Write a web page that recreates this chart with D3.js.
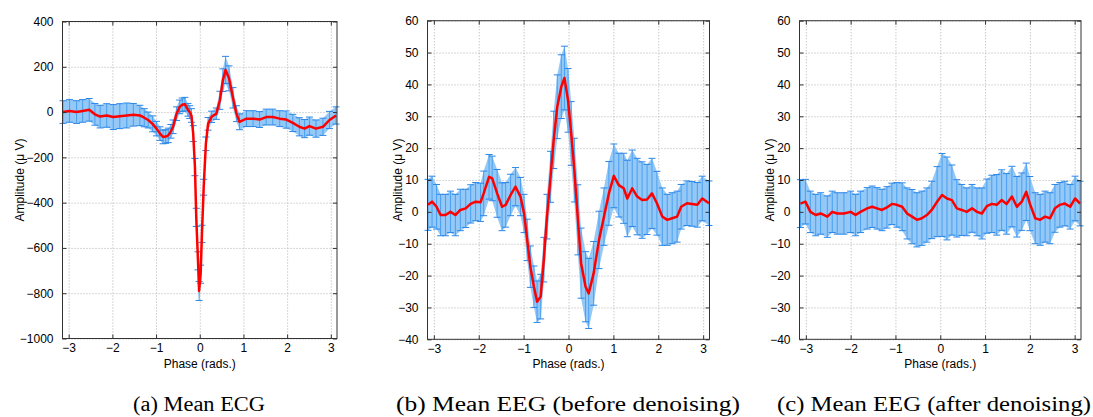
<!DOCTYPE html>
<html><head><meta charset="utf-8">
<script src="https://cdn.jsdelivr.net/npm/d3@7"></script>
<style>
body{margin:0;background:#fff;}
svg text{font-family:"Liberation Sans",Arial,sans-serif;}
</style>
</head><body><svg id="chart" width="1093" height="417"></svg>
<script>
// ---------- data ----------
const phaseTicks = [-3, -2, -1, 0, 1, 2, 3];
const ecgTicks = [-1000, -800, -600, -400, -200, 0, 200, 400];
const eegTicks = [-40, -30, -20, -10, 0, 10, 20, 30, 40, 50, 60];
const captions = ["(a) Mean ECG", "(b) Mean EEG (before denoising)", "(c) Mean EEG (after denoising)"];

const ecgPhase = [-3.13,-2.98,-2.82,-2.68,-2.53,-2.40,-2.28,-2.13,-1.98,-1.83,-1.67,-1.52,-1.37,-1.27,-1.18,-1.08,-0.99,-0.91,-0.84,-0.78,-0.72,-0.66,-0.61,-0.53,-0.46,-0.40,-0.34,-0.27,-0.23,-0.19,-0.15,-0.11,-0.08,-0.04,-0.015,0.02,0.05,0.09,0.14,0.19,0.27,0.38,0.46,0.53,0.59,0.67,0.76,0.84,0.91,1.07,1.22,1.37,1.52,1.67,1.83,1.98,2.13,2.28,2.40,2.51,2.66,2.82,2.97,3.12];
const ecgMean = [0,5,0,5,10,-10,-20,-15,-22,-18,-15,-12,-15,-25,-35,-52,-73,-95,-110,-108,-103,-85,-65,-7,23,32,35,10,0,-15,-95,-243,-465,-657,-790,-716,-538,-332,-140,-52,-21,-7,52,141,186,149,63,-7,-43,-29,-29,-33,-22,-22,-29,-33,-48,-65,-73,-62,-73,-65,-35,-15];
const ecgErr = [50,50,50,50,50,48,50,52,55,55,55,50,45,40,35,35,32,30,30,30,32,30,30,30,30,30,30,28,28,30,35,38,40,40,42,40,38,35,30,28,25,25,40,50,60,55,45,35,35,35,35,35,35,35,35,38,38,40,40,40,38,38,38,38];

const eegBeforePhase = [-3.13,-3.04,-2.94,-2.85,-2.74,-2.63,-2.52,-2.41,-2.29,-2.18,-2.07,-1.96,-1.89,-1.77,-1.70,-1.59,-1.48,-1.40,-1.29,-1.18,-1.07,-0.99,-0.92,-0.85,-0.77,-0.70,-0.62,-0.55,-0.48,-0.40,-0.33,-0.25,-0.16,-0.09,-0.01,0.06,0.13,0.21,0.28,0.38,0.45,0.56,0.68,0.79,0.90,1.01,1.12,1.23,1.31,1.42,1.53,1.64,1.75,1.86,1.97,2.09,2.20,2.31,2.42,2.51,2.64,2.75,2.87,2.98,3.13];
const eegBeforeMean = [2.2,3.2,1.6,-1,-1,0,-1,0.6,1.1,2.5,3.2,3,5.8,11,10.5,5.8,1.6,2.2,5.3,7.9,4.8,-0.5,-8.8,-17.2,-23.5,-28.2,-26.6,-15,-1.5,11,22.6,33,39.3,42,35,24.6,13.1,-2.5,-16.1,-23.5,-25.6,-19.3,-8.8,-1.5,5.8,11.3,8.4,7.4,4.2,7.4,4.8,3.7,3.9,5.8,2.7,-1.5,-2.5,-2,-1.5,1.6,2.7,2.5,2.2,4.2,2.7];
const eegBeforeErr = [8,8,7,6.5,6.5,6.5,6.5,6.5,6,6,6,6,7,7,7,7.5,7.5,7,6.5,6,6,6,6.5,6.5,6.5,6.5,7,7,7,8,9,10,10,10,10,10,10,11,11,11,11,10,9,9,10,10,10,11,12,12,12,12,11,11,10,9,8,8,8,7,7,7,7,7,7];

const eegAfterPhase = [-3.12,-3.01,-2.90,-2.78,-2.67,-2.52,-2.41,-2.30,-2.15,-2.00,-1.89,-1.78,-1.63,-1.52,-1.41,-1.30,-1.19,-1.08,-0.97,-0.85,-0.74,-0.63,-0.52,-0.41,-0.30,-0.19,-0.07,0.04,0.15,0.26,0.37,0.48,0.59,0.71,0.82,0.93,1.04,1.15,1.26,1.37,1.48,1.60,1.71,1.82,1.92,2.00,2.12,2.23,2.34,2.45,2.56,2.67,2.78,2.90,3.01,3.12];
const eegAfterMean = [2.6,3.2,0,-1,-0.5,-1.5,0,-0.5,-0.5,0,-1,0,1.1,1.6,1.1,0.6,1.4,2.5,2.2,1.6,-0.5,-1.5,-2.5,-2,-1,0.6,3.2,5.3,4.2,3.7,1.1,0.6,0,1.1,0,-0.5,1.8,2.5,2.2,3.7,2.5,4.8,1.6,3.2,6.3,2.6,-2,-2.5,-1.5,-2,1.1,2.2,2.6,1.6,4.2,2.6];
const eegAfterErr = [7.5,7,6.5,6.5,6.5,6.5,6.5,6.5,6.5,6.5,6.5,6.5,6.5,6.5,6.5,6.5,6.5,6.5,7,7.5,8,8.5,8.5,8.5,8.5,9,11,13,13,11,9,8,7.5,7.5,7.5,8,8.5,9,9.5,9.5,9.5,9.5,9.5,9,9,8.5,8,8,8,8,7.5,7,7,7,7,7];

// ---------- drawing ----------
const svg = d3.select("#chart");

const panels = [
  {phase: ecgPhase, mean: ecgMean, err: ecgErr, yDomain: [-1000, 400], yTicks: ecgTicks,
   x0: 62.5, x1: 337, y0: 21.5, y1: 338.5, ylabX: 20, cap: captions[0], capX: 199, capW: 132},
  {phase: eegBeforePhase, mean: eegBeforeMean, err: eegBeforeErr, yDomain: [-40, 60], yTicks: eegTicks,
   x0: 427.5, x1: 709.5, y0: 20.7, y1: 339.3, ylabX: 398, cap: captions[1], capX: 568, capW: 344},
  {phase: eegAfterPhase, mean: eegAfterMean, err: eegAfterErr, yDomain: [-40, 60], yTicks: eegTicks,
   x0: 799.5, x1: 1081, y0: 20.7, y1: 339.3, ylabX: 770, cap: captions[2], capX: 934, capW: 314}
];

panels.forEach(p => {
  const x = d3.scaleLinear().domain([-Math.PI, Math.PI]).range([p.x0, p.x1]);
  const y = d3.scaleLinear().domain(p.yDomain).range([p.y1, p.y0]);
  const w = p.x1 - p.x0, h = p.y1 - p.y0;
  const g = svg.append("g");

  // grid
  g.append("g").attr("transform", `translate(0,${p.y1})`)
    .call(d3.axisBottom(x).tickValues(phaseTicks).tickSize(-h).tickFormat(""))
    .call(s => { s.select(".domain").remove(); s.selectAll("line").attr("stroke", "#b0b0b0").attr("stroke-dasharray", "1,2"); });
  g.append("g").attr("transform", `translate(${p.x0},0)`)
    .call(d3.axisLeft(y).tickValues(p.yTicks).tickSize(-w).tickFormat(""))
    .call(s => { s.select(".domain").remove(); s.selectAll("line").attr("stroke", "#b0b0b0").attr("stroke-dasharray", "1,2"); });

  const data = p.phase.map((ph, i) => ({ph, m: p.mean[i], e: p.err[i]}));

  // error band
  g.append("path").datum(data)
    .attr("d", d3.area().x(d => x(d.ph)).y0(d => y(d.m - d.e)).y1(d => y(d.m + d.e)))
    .attr("fill", "#94c8f6");
  // error bars
  const eb = g.append("g");
  eb.selectAll("line.v").data(data).join("line")
    .attr("x1", d => x(d.ph)).attr("x2", d => x(d.ph))
    .attr("y1", d => y(d.m - d.e)).attr("y2", d => y(d.m + d.e))
    .attr("stroke", "#4a9ff0").attr("stroke-width", 1);
  [-1, 1].forEach(sgn => {
    eb.selectAll(null).data(data).join("line")
      .attr("x1", d => x(d.ph) - 3.5).attr("x2", d => x(d.ph) + 3.5)
      .attr("y1", d => y(d.m + sgn * d.e)).attr("y2", d => y(d.m + sgn * d.e))
      .attr("stroke", "#2b86e6").attr("stroke-width", 1);
  });

  // mean line
  g.append("path").datum(data)
    .attr("d", d3.line().x(d => x(d.ph)).y(d => y(d.m)))
    .attr("fill", "none").attr("stroke", "#ff0000").attr("stroke-width", 2.5).attr("stroke-linejoin", "round");

  // axes with inward ticks on all sides
  const styleAxis = s => {
    s.select(".domain").remove();
    s.selectAll(".tick line").attr("stroke", "#333");
    s.selectAll(".tick text").attr("fill", "#000").style("font-size", "12px");
  };
  g.append("g").attr("transform", `translate(0,${p.y1})`)
    .call(d3.axisBottom(x).tickValues(phaseTicks).tickSizeInner(-4).tickSizeOuter(0).tickPadding(5).tickFormat(d3.format("d")))
    .call(styleAxis);
  g.append("g").attr("transform", `translate(0,${p.y0})`)
    .call(d3.axisTop(x).tickValues(phaseTicks).tickSizeInner(-4).tickSizeOuter(0).tickFormat(""))
    .call(styleAxis);
  g.append("g").attr("transform", `translate(${p.x0},0)`)
    .call(d3.axisLeft(y).tickValues(p.yTicks).tickSizeInner(-4).tickSizeOuter(0).tickPadding(9).tickFormat(d3.format("d")))
    .call(styleAxis);
  g.append("g").attr("transform", `translate(${p.x1},0)`)
    .call(d3.axisRight(y).tickValues(p.yTicks).tickSizeInner(-4).tickSizeOuter(0).tickFormat(""))
    .call(styleAxis);

  // box
  g.append("rect").attr("x", p.x0).attr("y", p.y0).attr("width", w).attr("height", h)
    .attr("fill", "none").attr("stroke", "#333").attr("stroke-width", 1);

  // axis labels
  g.append("text").attr("x", (p.x0 + p.x1) / 2).attr("y", 367.5)
    .attr("text-anchor", "middle").style("font-size", "12px").text("Phase (rads.)");
  g.append("text").attr("transform", `translate(${p.ylabX + 4},${(p.y0 + p.y1) / 2}) rotate(-90)`)
    .attr("text-anchor", "middle").style("font-size", "12px").text("Amplitude (\u03bc V)");

  // caption
  svg.append("text").attr("x", p.capX).attr("y", 411)
    .attr("text-anchor", "middle")
    .style("font-family", "'Liberation Serif','DejaVu Serif',serif").style("font-size", "20px")
    .attr("textLength", p.capW).attr("lengthAdjust", "spacingAndGlyphs")
    .text(p.cap);
});
</script>
</body></html>
